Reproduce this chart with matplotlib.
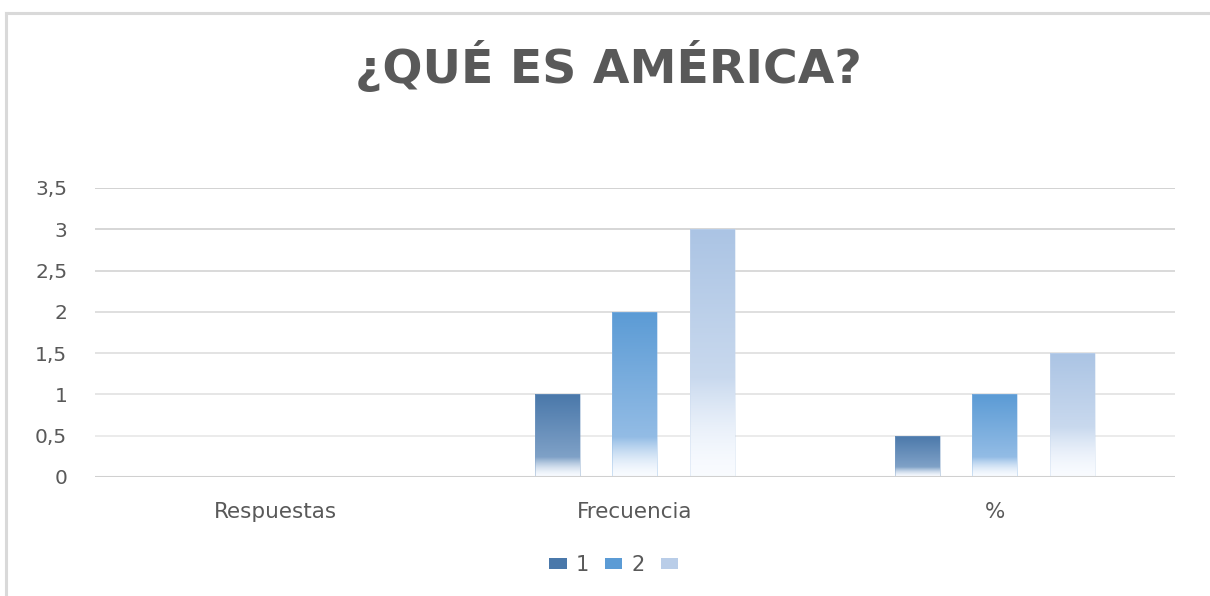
import numpy as np
import matplotlib
matplotlib.use("Agg")
import matplotlib.pyplot as plt
from matplotlib.colors import to_rgb
from matplotlib.lines import Line2D
from matplotlib.patches import Rectangle

# ---- data ----
title = "¿QUÉ ES AMÉRICA?"
categories = ["Respuestas", "Frecuencia", "%"]
series_names = ["1", "2", ""]
series_1 = [0, 1, 0.5]
series_2 = [0, 2, 1]
series_3 = [0, 3, 1.5]
yticks = [0, 0.5, 1, 1.5, 2, 2.5, 3, 3.5]
ytick_labels = ["0", "0,5", "1", "1,5", "2", "2,5", "3", "3,5"]

# ---- styles ----
top_colors = ["#4a78aa", "#5b9bd5", "#abc4e4"]
mid_colors = ["#7fa1c7", "#93bce5", "#c9d9ee"]
fade_pts = [0.24, 0.24, 0.40]
text_col = "#595959"

fig = plt.figure(figsize=(12.1, 5.96), dpi=100)
fig.patch.set_facecolor("white")
ax = fig.add_axes([0.0785, 0.1997, 0.8925, 0.4849])

x = np.arange(len(categories))
width = 0.125
offsets = [-0.216, 0.0, 0.216]
all_series = [series_1, series_2, series_3]

# grid lines
for i, v in enumerate(yticks):
    if v == 0:
        continue
    frac = v / max(yticks)
    g = 0.93 - 0.12 * frac
    ax.axhline(v, color=(g, g, g), lw=1.3, zorder=0)
ax.axhline(0, color="#d0d0d0", lw=2.2, zorder=3)


def gradient_img(top, mid, fade):
    t = np.linspace(0, 1, 256)
    top = np.array(to_rgb(top))
    mid = np.array(to_rgb(mid))
    white = np.array([0.975, 0.985, 1.0])
    img = np.zeros((256, 1, 3))
    for k, tt in enumerate(t):
        if tt >= fade:
            s = (tt - fade) / (1 - fade)
            c = mid + (top - mid) * s
        else:
            s = tt / fade
            c = white + (mid - white) * (s ** 1.6)
        img[k, 0] = c
    return img


for si, vals in enumerate(all_series):
    bars = ax.bar(x + offsets[si], vals, width, facecolor="none",
                  edgecolor="none", label=series_names[si], zorder=2)
    img = gradient_img(top_colors[si], mid_colors[si], fade_pts[si])
    for b in bars:
        h = b.get_height()
        if h <= 0:
            continue
        x0 = b.get_x()
        im = ax.imshow(img, extent=(x0, x0 + b.get_width(), 0, h),
                       origin="lower", aspect="auto", zorder=2,
                       interpolation="bilinear")
        im.set_clip_path(b)
        ax.add_patch(Rectangle((x0, 0), b.get_width(), h, fill=False,
                               edgecolor=mid_colors[si], lw=0.6,
                               alpha=0.5, zorder=2))

ax.set_xlim(-0.5, 2.5)
ax.set_ylim(0, 3.5)
ax.set_yticks(yticks)
ax.set_yticklabels(ytick_labels)
ax.set_xticks(x)
ax.set_xticklabels(categories)
ax.tick_params(axis="both", length=0, labelcolor=text_col)
ax.tick_params(axis="y", pad=20, labelsize=14.5)
ax.tick_params(axis="x", pad=18, labelsize=15.5)
for sp in ax.spines.values():
    sp.set_visible(False)
ax.set_facecolor("none")

# title
fig.text(0.503, 0.888, title, ha="center", va="center", fontsize=34,
         fontweight="bold", color=text_col, family="DejaVu Sans")

# legend
handles = [Rectangle((0, 0), 1, 1, facecolor=top_colors[i],
                     edgecolor="none") for i in range(3)]
handles[2].set_facecolor("#b9cde8")
leg = fig.legend(handles, series_names, loc="center", ncol=3,
                 bbox_to_anchor=(0.511, 0.052), frameon=False,
                 fontsize=15, handlelength=0.85, handleheight=0.4,
                 handletextpad=0.45, columnspacing=0.75, labelcolor=text_col)

# chart border (top and left)
fig.add_artist(Line2D([6 / 1210, 1.0], [1 - 13 / 596, 1 - 13 / 596],
                      color="#d9d9d9", lw=2.2, transform=fig.transFigure))
fig.add_artist(Line2D([6 / 1210, 6 / 1210], [0, 1 - 13 / 596],
                      color="#d9d9d9", lw=2.2, transform=fig.transFigure))

fig.savefig("out.png", dpi=100, facecolor="white")
